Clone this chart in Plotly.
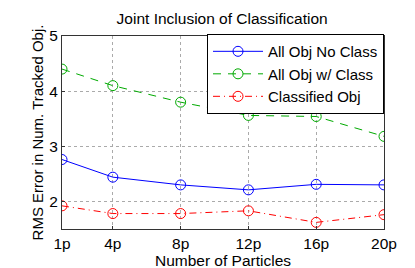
import plotly.graph_objects as go

particles = [1, 4, 8, 12, 16, 20]
tick_labels = ["1p", "4p", "8p", "12p", "16p", "20p"]
all_no_class = [2.76, 2.44, 2.30, 2.21, 2.31, 2.30]
all_w_class = [4.40, 4.10, 3.80, 3.56, 3.54, 3.18]
classified = [1.92, 1.78, 1.78, 1.83, 1.62, 1.76]

FONT = "Liberation Sans, Arial, sans-serif"

fig = go.Figure()
fig.add_trace(go.Scatter(x=particles, y=all_no_class, name="All Obj No Class", mode="lines+markers",
                         line=dict(color="#0000ff", width=1, dash="solid"),
                         marker=dict(symbol="circle-open", size=10, color="#0000ff", line=dict(width=1))))
fig.add_trace(go.Scatter(x=particles, y=all_w_class, name="All Obj w/ Class", mode="lines+markers",
                         line=dict(color="#00aa00", width=1, dash="8px,7px"),
                         marker=dict(symbol="circle-open", size=10, color="#00aa00", line=dict(width=1))))
fig.add_trace(go.Scatter(x=particles, y=classified, name="Classified Obj", mode="lines+markers",
                         line=dict(color="#ff0000", width=1, dash="7px,4px,1px,4px"),
                         marker=dict(symbol="circle-open", size=10, color="#ff0000", line=dict(width=1))))

fig.update_layout(
    width=415, height=268,
    margin=dict(l=54, r=39, t=28, b=44),
    paper_bgcolor="white", plot_bgcolor="white",
    font=dict(family=FONT, size=15.5, color="black"),
    title=dict(text="Joint Inclusion of Classification", x=0.516, xanchor="center", y=0.962, yanchor="middle",
               font=dict(size=15.5, family=FONT)),
    legend=dict(x=1, xanchor="right", y=1.01, yanchor="top", bordercolor="black", borderwidth=1,
                bgcolor="white", font=dict(size=15, family=FONT), itemwidth=50,
                tracegroupgap=0),
    showlegend=True,
)
fig.update_xaxes(range=[1, 20], tickmode="array", tickvals=particles, ticktext=tick_labels,
                 showgrid=True, gridcolor="#aaa", griddash="dot", gridwidth=1,
                 showline=True, linecolor="#333", linewidth=1, mirror=True,
                 ticks="inside", ticklen=3, tickcolor="#333",
                 title=dict(text="Number of Particles", font=dict(size=15.5), standoff=2),
                 zeroline=False)
fig.update_yaxes(range=[1.5, 5], tickmode="array", tickvals=[2, 3, 4, 5],
                 showgrid=True, gridcolor="#aaa", griddash="dot", gridwidth=1,
                 showline=True, linecolor="#333", linewidth=1, mirror=True,
                 ticks="inside", ticklen=3, tickcolor="#333",
                 title=dict(text="RMS Error in Num. Tracked Obj.", font=dict(size=15), standoff=2),
                 zeroline=False)

fig.write_html("out.html")
